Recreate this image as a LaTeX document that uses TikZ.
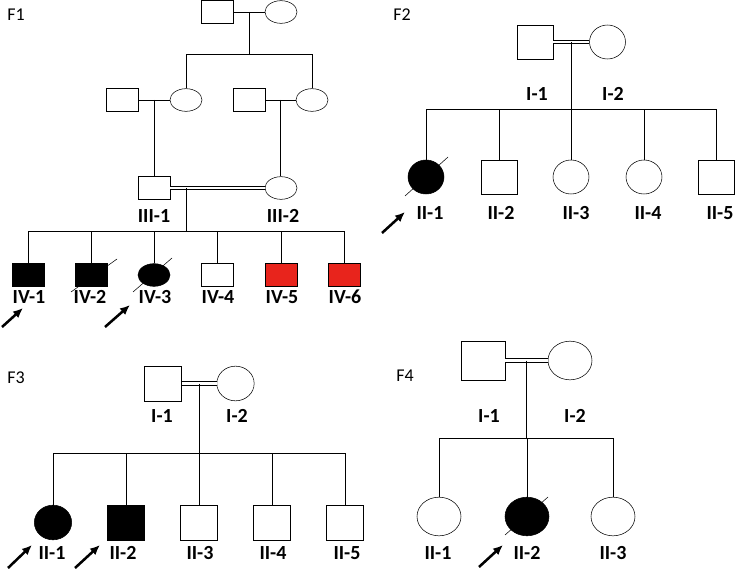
\documentclass[tikz,border=0pt]{standalone}
\usepackage{fontspec}
\setmainfont{Carlito}
\usetikzlibrary{shapes.geometric}
\usetikzlibrary{arrows.meta}
\usetikzlibrary{calc}
\tikzset{>=latex, line width=0.9pt}
\definecolor{affred}{RGB}{232,36,28}
\tikzset{
  male/.style={rectangle,draw,inner sep=0pt,minimum width=\pw,minimum height=\ph},
  female/.style={ellipse,draw,inner sep=0pt,minimum width=\pw,minimum height=\ph},
  aff/.style={fill=black},
  affr/.style={fill=affred},
  lab/.style={inner sep=0pt,font=\bfseries\fontsize{15}{17}\selectfont},
  fam/.style={inner sep=0pt,font=\fontsize{13.5}{15}\selectfont},
  consang/.style={double,double distance=2pt,line width=0.7pt},
  proband/.style={-{Latex[length=7.5pt,width=6.5pt]},line width=1.9pt},
}

\begin{document}
\begin{tikzpicture}[x=0.75pt,y=-0.75pt]
  \useasboundingbox (0,0) rectangle (739,574);

  % F1
  \node[fam] (f1) at (16,15) {F1};
  \def\pw{24pt}\def\ph{17pt}
  \node[male] (f1a) at (217,12) {};
  \node[female] (f1b) at (281,12) {};
  \node[male] (f1c) at (122,100) {};
  \node[female] (f1d) at (186,100) {};
  \node[male] (f1e) at (249,100) {};
  \node[female] (f1f) at (312,100) {};
  \node[male] (iii1) at (154,188) {};
  \node[female] (iii2) at (281,188) {};
  \node[lab] (liii1) at (154,216) {III-1};
  \node[lab] (liii2) at (283,216) {III-2};

  \coordinate (f1s1) at (0,54);
  \coordinate (f1s2) at (0,231);
  \draw (f1a) -- (f1b);
  \draw ($(f1a.east)!.5!(f1b.west)$) coordinate (f1m1) -- (f1m1 |- f1s1);
  \draw (f1d.north |- f1s1) -- (f1f.north |- f1s1);
  \draw (f1d.north) -- (f1d.north |- f1s1);
  \draw (f1f.north) -- (f1f.north |- f1s1);
  \draw (f1c) -- (f1d);
  \draw (f1e) -- (f1f);
  \draw ($(f1c.east)!.5!(f1d.west)$) coordinate (f1m2) -- (f1m2 |- iii1.north);
  \draw ($(f1e.east)!.5!(f1f.west)$) coordinate (f1m3) -- (f1m3 |- iii2.north);
  \draw[consang] (iii1) -- (iii2);
  \coordinate (f1m4) at (186,188);
  \draw (f1m4) -- (f1m4 |- f1s2);

  \node[male,aff] (iv1) at (28,275) {};
  \node[male,aff] (iv2) at (91,275) {};
  \node[female,aff] (iv3) at (154,275) {};
  \node[male] (iv4) at (217,275) {};
  \node[male,affr] (iv5) at (281,275) {};
  \node[male,affr] (iv6) at (344,275) {};
  \draw (iv1.north |- f1s2) -- (iv6.north |- f1s2);
  \foreach \n in {iv1,iv2,iv3,iv4,iv5,iv6}
    \draw (\n.north) -- (\n.north |- f1s2);
  \draw ($(iv2)+(-20,17)$) -- ($(iv2)+(26,-16)$);
  \draw ($(iv3)+(-21,17)$) -- ($(iv3)+(18,-17)$);
  \node[lab] (liv1) at (29,297) {IV-1};
  \node[lab] (liv2) at (90,297) {IV-2};
  \node[lab] (liv3) at (155,297) {IV-3};
  \node[lab] (liv4) at (218,297) {IV-4};
  \node[lab] (liv5) at (282,297) {IV-5};
  \node[lab] (liv6) at (345,297) {IV-6};
  \draw[proband] ($(iv1)+(-26,52)$) -- ($(iv1)+(-5,33)$);
  \draw[proband] ($(iv3)+(-49,52)$) -- ($(iv3)+(-24,30)$);

  % F2
  \node[fam] (f2) at (402,15) {F2};
  \def\pw{27pt}\def\ph{25.5pt}
  \node[male] (f2i1) at (535,42) {};
  \node[female] (f2i2) at (607.5,42) {};
  \node[lab] (lf2i1) at (537,94) {I-1};
  \node[lab] (lf2i2) at (613,94) {I-2};
  \coordinate (f2s) at (0,109);
  \draw[consang] (f2i1) -- (f2i2);
  \draw ($(f2i1.east)!.5!(f2i2.west)$) coordinate (f2m) -- (f2m |- f2s);
  \node[female,aff] (f2ii1) at (426,177) {};
  \node[male] (f2ii2) at (499,177) {};
  \node[female] (f2ii3) at (571,177) {};
  \node[female] (f2ii4) at (644,177) {};
  \node[male] (f2ii5) at (716,177) {};
  \draw (f2ii1.north |- f2s) -- (f2ii5.north |- f2s);
  \foreach \n in {f2ii1,f2ii2,f2ii3,f2ii4,f2ii5}
    \draw (\n.north) -- (\n.north |- f2s);
  \draw ($(f2ii1)+(-21,19)$) -- ($(f2ii1)+(22,-20)$);
  \node[lab] (lf2ii1) at (430,213) {II-1};
  \node[lab] (lf2ii2) at (501,213) {II-2};
  \node[lab] (lf2ii3) at (576,213) {II-3};
  \node[lab] (lf2ii4) at (648,213) {II-4};
  \node[lab] (lf2ii5) at (720,213) {II-5};
  \draw[proband] ($(f2ii1)+(-44,56)$) -- ($(f2ii1)+(-21,35)$);

  % F3
  \node[fam] (f3) at (16,378) {F3};
  \def\pw{28pt}\def\ph{26pt}
  \node[male] (f3i1) at (163,383.5) {};
  \node[female] (f3i2) at (235.5,383.5) {};
  \node[lab] (lf3i1) at (162,416) {I-1};
  \node[lab] (lf3i2) at (237,416) {I-2};
  \coordinate (f3s) at (0,453);
  \draw[consang] (f3i1) -- (f3i2);
  \draw ($(f3i1.east)!.5!(f3i2.west)$) coordinate (f3m) -- (f3m |- f3s);
  \node[female,aff] (f3ii1) at (53,522.5) {};
  \node[male,aff] (f3ii2) at (126,522.5) {};
  \node[male] (f3ii3) at (199,522.5) {};
  \node[male] (f3ii4) at (272,522.5) {};
  \node[male] (f3ii5) at (345,522.5) {};
  \draw (f3ii1.north |- f3s) -- (f3ii5.north |- f3s);
  \foreach \n in {f3ii1,f3ii2,f3ii3,f3ii4,f3ii5}
    \draw (\n.north) -- (\n.north |- f3s);
  \node[lab] (lf3ii1) at (52,553) {II-1};
  \node[lab] (lf3ii2) at (123,553) {II-2};
  \node[lab] (lf3ii3) at (200,553) {II-3};
  \node[lab] (lf3ii4) at (273,553) {II-4};
  \node[lab] (lf3ii5) at (347,553) {II-5};
  \draw[proband] ($(f3ii1)+(-45,45.5)$) -- ($(f3ii1)+(-21,22.5)$);
  \draw[proband] ($(f3ii2)+(-51,45.5)$) -- ($(f3ii2)+(-26,22.5)$);

  % F4
  \node[fam] (f4) at (405,376) {F4};
  \def\pw{33pt}\def\ph{29pt}
  \node[male] (f4i1) at (483,360.5) {};
  \node[female] (f4i2) at (570,360.5) {};
  \node[lab] (lf4i1) at (489,416) {I-1};
  \node[lab] (lf4i2) at (575,416) {I-2};
  \coordinate (f4s) at (0,438);
  \draw[consang] (f4i1) -- (f4i2);
  \draw ($(f4i1.east)!.5!(f4i2.west)$) coordinate (f4m) -- (f4m |- f4s);
  \node[female] (f4ii1) at (439,516.5) {};
  \node[female,aff] (f4ii2) at (527,516.5) {};
  \node[female] (f4ii3) at (613,516.5) {};
  \draw (f4ii1.north |- f4s) -- (f4ii3.north |- f4s);
  \foreach \n in {f4ii1,f4ii2,f4ii3}
    \draw (\n.north) -- (\n.north |- f4s);
  \draw ($(f4ii2)+(-22,18.5)$) -- ($(f4ii2)+(21,-19.5)$);
  \node[lab] (lf4ii1) at (438,553) {II-1};
  \node[lab] (lf4ii2) at (527,553) {II-2};
  \node[lab] (lf4ii3) at (613,553) {II-3};
  \draw[proband] ($(f4ii2)+(-48,50.5)$) -- ($(f4ii2)+(-24,28.5)$);
\end{tikzpicture}
\end{document}
